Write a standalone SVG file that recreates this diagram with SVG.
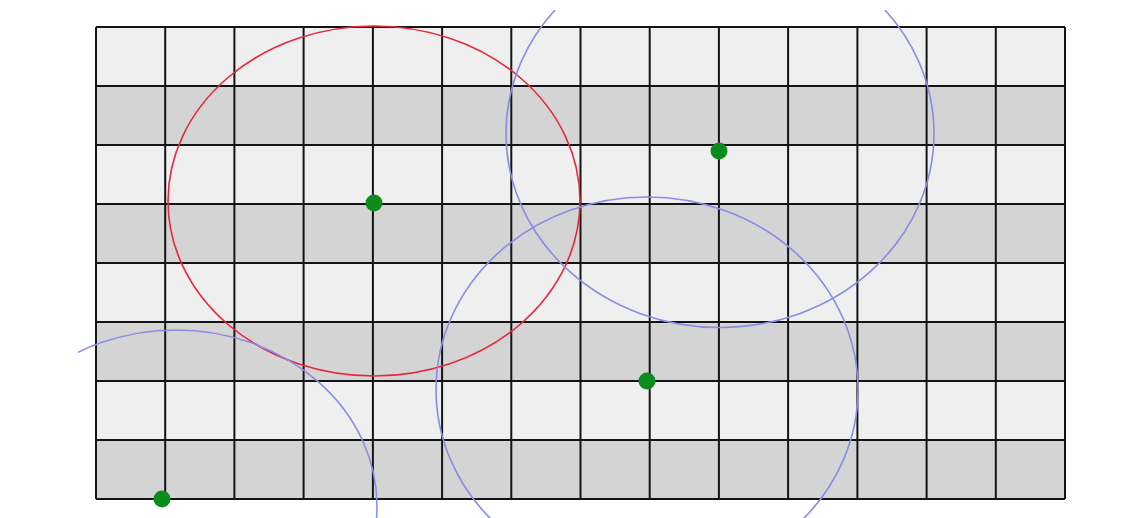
<svg xmlns="http://www.w3.org/2000/svg" width="1142" height="518" viewBox="0 0 1142 518">
<defs>
<style>
.light{fill:#efefef}
.dark{fill:#d4d4d4}
.grid{stroke:#141414;stroke-width:2;fill:none}
.red{fill:none;stroke:#e8283c;stroke-width:1.6}
.blue{fill:none;stroke:#8a8ce6;stroke-width:1.6}
.dot{fill:#0c8c1c}
</style>
<clipPath id="frame"><rect x="78" y="10" width="1000" height="508"/></clipPath>
</defs>
<rect width="1142" height="518" fill="#ffffff"/>
<g id="rows">
<rect class="light" x="96" y="27" width="969" height="59"/>
<rect class="dark" x="96" y="86" width="969" height="59"/>
<rect class="light" x="96" y="145" width="969" height="59"/>
<rect class="dark" x="96" y="204" width="969" height="59"/>
<rect class="light" x="96" y="263" width="969" height="59"/>
<rect class="dark" x="96" y="322" width="969" height="59"/>
<rect class="light" x="96" y="381" width="969" height="59"/>
<rect class="dark" x="96" y="440" width="969" height="59"/>
</g>
<g id="grid" class="grid">
<path d="M96 27V499M165.2 27V499M234.4 27V499M303.6 27V499M372.9 27V499M442.1 27V499M511.3 27V499M580.5 27V499M649.7 27V499M718.9 27V499M788.1 27V499M857.4 27V499M926.6 27V499M995.8 27V499M1065 27V499"/>
<path d="M96 27H1065M96 86H1065M96 145H1065M96 204H1065M96 263H1065M96 322H1065M96 381H1065M96 440H1065M96 499H1065"/>
</g>
<g id="circles" clip-path="url(#frame)">
<ellipse id="red-range" class="red" cx="374" cy="201" rx="206" ry="175"/>
<ellipse id="blue-top" class="blue" cx="720" cy="133.5" rx="214" ry="194"/>
<ellipse id="blue-mid" class="blue" cx="647" cy="389.5" rx="211" ry="192.5"/>
<ellipse id="blue-left" class="blue" cx="176" cy="506" rx="201" ry="176"/>
</g>
<g id="nodes">
<circle id="n1" class="dot" cx="374" cy="203" r="8.5"/>
<circle id="n2" class="dot" cx="719" cy="151" r="8.5"/>
<circle id="n3" class="dot" cx="647" cy="381" r="8.5"/>
<circle id="n4" class="dot" cx="162" cy="499" r="8.5"/>
</g>
</svg>
